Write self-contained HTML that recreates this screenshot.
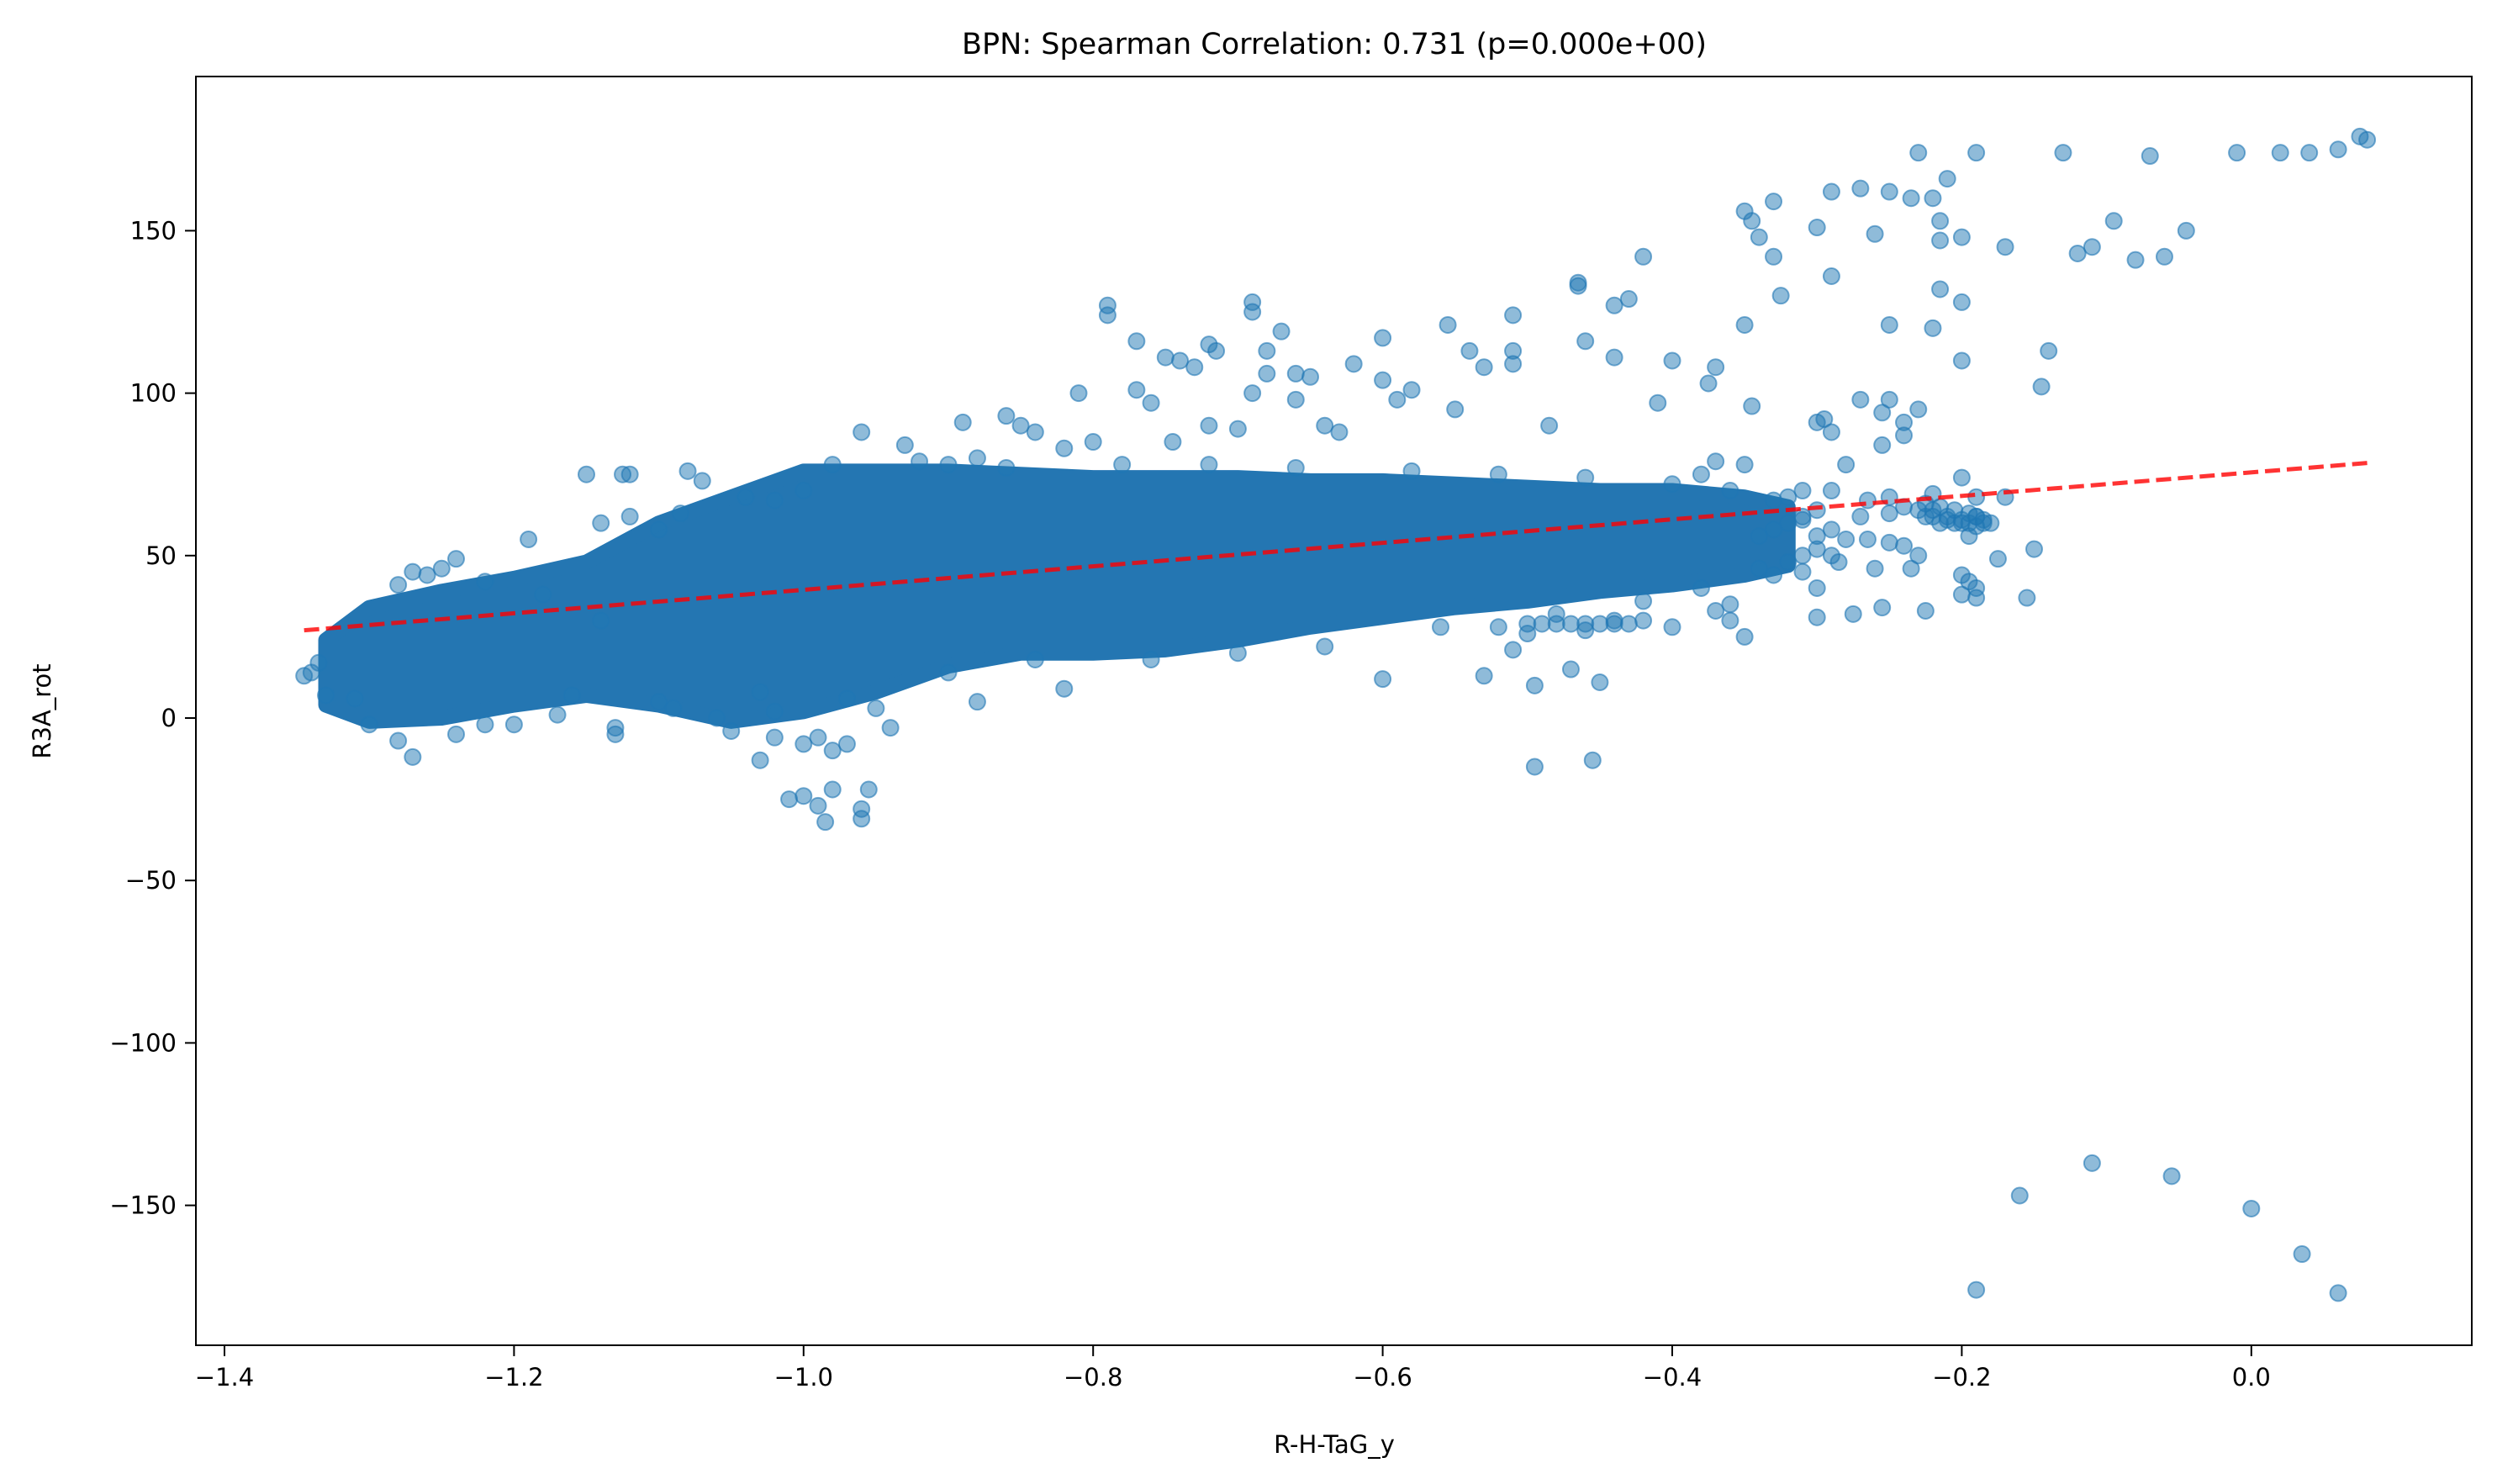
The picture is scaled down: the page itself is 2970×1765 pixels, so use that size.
<!DOCTYPE html>
<html><head><meta charset="utf-8"><style>
html,body{margin:0;padding:0;background:#fff}
svg{display:block;font-family:"DejaVu Sans","Liberation Sans",sans-serif}
</style></head><body>
<svg id="chart" width="2970" height="1765" viewBox="0 0 2970 1765">
<rect x="0" y="0" width="2970" height="1765" fill="#fff"/>
<g id="plot"></g>
<rect x="233" y="91" width="2707" height="1509" fill="none" stroke="#000" stroke-width="2"/>
<g id="axes"></g>
<text x="1587" y="64" font-size="35" text-anchor="middle">BPN: Spearman Correlation: 0.731 (p=0.000e+00)</text>
<text x="1587" y="1728" font-size="29" text-anchor="middle">R-H-TaG_y</text>
<text x="60" y="846" font-size="29" text-anchor="middle" transform="rotate(-90 60 846)">R3A_rot</text>
</svg>
<script>
const xTicks=[-1.4,-1.2,-1.0,-0.8,-0.6,-0.4,-0.2,0.0];
const xTickLabels=["\u22121.4","\u22121.2","\u22121.0","\u22120.8","\u22120.6","\u22120.4","\u22120.2","0.0"];
const yTicks=[-150,-100,-50,0,50,100,150];
const yTickLabels=["\u2212150","\u2212100","\u221250","0","50","100","150"];
const cloudX=[-1.33,-1.3,-1.25,-1.2,-1.15,-1.1,-1.05,-1.0,-0.95,-0.9,-0.85,-0.8,-0.75,-0.7,-0.65,-0.6,-0.55,-0.5,-0.45,-0.4,-0.35,-0.32];
const cloudUpper=[24,34,39,43,48,60,68,76,76,76,75,74,74,74,73,73,72,71,70,70,68,65];
const cloudLower=[4,-1,0,4,7,4,-1,2,8,16,20,20,21,24,28,31,34,36,39,41,44,47];
const pointsX=[0.075,0.08,0.06,0.04,0.02,-0.01,-0.07,-0.13,-0.19,-0.23,-0.21,-0.25,-0.27,-0.235,-0.22,-0.29,-0.33,-0.17,-0.12,-0.11,-0.095,-0.08,-0.06,-0.045,-0.2,-0.215,-0.215,-0.26,-0.3,-0.345,-0.35,-0.34,-0.33,-0.42,-0.29,-0.325,-0.43,-0.44,-0.465,-0.465,-0.2,-0.215,-0.22,-0.25,-0.35,-0.51,-0.51,-0.46,-0.555,-0.6,-0.54,-0.2,-0.14,-0.145,-0.4,-0.37,-0.375,-0.44,-0.53,-0.51,-0.58,-0.6,-0.62,-0.345,-0.41,-0.27,-0.25,-0.255,-0.24,-0.23,-0.3,-0.295,-0.29,-0.24,-0.255,-0.485,-0.55,-0.59,-0.64,-0.69,-0.69,-0.79,-0.79,-0.77,-0.72,-0.715,-0.68,-0.68,-0.66,-0.67,-0.65,-0.75,-0.73,-0.74,-0.81,-0.77,-0.76,-0.745,-0.72,-0.7,-0.66,-0.69,-0.85,-0.84,-0.89,-0.96,-0.9,-0.86,-0.93,-1.15,-1.125,-1.12,-1.08,-1.07,-0.8,-0.82,-0.88,-0.63,
-0.28,-0.2,-0.22,-0.25,-0.265,-0.17,-0.29,-0.25,-0.27,-0.31,-0.265,-0.26,-0.24,-0.25,-0.23,-0.235,-0.2,-0.195,-0.19,-0.2,-0.19,-0.15,-0.155,-0.175,-0.29,-0.285,-0.28,-0.31,-0.3,-0.275,-0.255,-0.225,-0.36,-0.37,-0.35,-0.36,-0.4,-0.42,-0.44,-0.46,-0.5,-0.52,-0.47,-0.45,-0.51,-0.53,-0.495,-0.455,-0.495,-0.6,-0.18,-0.19,-0.2,-0.21,-0.22,-0.23,-0.24,-0.19,-0.195,-0.33,-0.32,-0.31,-0.35,-0.37,-0.38,
-0.5,-0.49,-0.48,-0.47,-0.46,-0.45,-0.44,-0.43,
-1.0,-1.01,-0.99,-0.985,-0.96,-0.96,-0.955,-0.98,-1.0,-0.99,-1.02,-1.03,-0.98,-0.97,-1.05,-0.95,-0.94,-0.88,-1.13,-1.13,-1.27,-1.28,-1.24,-1.22,-1.17,-1.3,-1.31,-1.33,-1.34,-1.345,-1.335,-1.2,-1.16,-1.1,-1.09,-1.03,-0.82,
-0.19,-0.16,-0.11,-0.055,0.0,0.035,0.06,
-1.27,-1.24,-1.25,-1.28,-1.19,-1.14,-1.12,-1.1,-1.085,-1.04,-1.02,-1.0,
-0.225,-0.22,-0.215,-0.21,-0.205,-0.2,-0.195,-0.19,-0.185,-0.225,-0.215,-0.205,-0.195,-0.19,-0.185,
-0.3,-0.31,-0.32,-0.33,-0.34,-0.3,-0.31,-0.32,-0.34,-0.33,-0.3,-0.29,-0.3,
-0.98,-0.92,-0.86,-0.78,-0.72,-0.66,-0.58,-0.52,-0.46,-0.4,-0.36,
-1.06,-1.02,-0.97,-0.9,-0.84,-0.76,-0.7,-0.64,-0.56,-0.48,-0.42,-0.38,-1.22,-1.18,-1.14,-1.26];
const pointsY=[179,178,175,174,174,174,173,174,174,174,166,162,163,160,160,162,159,145,143,145,153,141,142,150,148,147,153,149,151,153,156,148,142,142,136,130,129,127,134,133,128,132,120,121,121,124,113,116,121,117,113,110,113,102,110,108,103,111,108,109,101,104,109,96,97,98,98,94,91,95,91,92,88,87,84,90,95,98,90,128,125,127,124,116,115,113,113,106,106,119,105,111,108,110,100,101,97,85,90,89,98,100,90,88,91,88,78,93,84,75,75,75,76,73,85,83,80,88,
78,74,69,68,67,68,70,63,62,61,55,46,53,54,50,46,44,42,40,38,37,52,37,49,50,48,55,45,31,32,34,33,35,33,25,30,28,30,30,27,26,28,15,11,21,13,-15,-13,10,12,60,62,60,61,62,64,65,68,56,67,68,70,78,79,75,
29,29,29,29,29,29,29,29,
-24,-25,-27,-32,-31,-28,-22,-22,-8,-6,-6,-13,-10,-8,-4,3,-3,5,-3,-5,-12,-7,-5,-2,1,-2,6,7,14,13,17,-2,7,5,3,8,9,
-176,-147,-137,-141,-151,-165,-177,
45,49,46,41,55,60,62,58,63,68,67,70,
62,64,60,62,60,61,60,62,61,66,65,64,63,59,60,
64,62,60,58,56,52,50,48,46,44,56,58,40,
78,79,77,78,78,77,76,75,74,72,70,
0,2,6,14,18,18,20,22,28,32,36,40,42,38,30,44];
const fitX=[-1.345,0.08];
const fitY=[27,78.5];

const NS="http://www.w3.org/2000/svg";
function xs(v){return 267+(v+1.4)*1722;}
function ys(v){return 854-v*3.864;}
const plot=document.getElementById('plot');
const axes=document.getElementById('axes');
function mk(tag,attrs,parent){const e=document.createElementNS(NS,tag);for(const k in attrs)e.setAttribute(k,attrs[k]);parent.appendChild(e);return e;}

let pts=[];
for(let i=0;i<cloudX.length;i++)pts.push(xs(cloudX[i])+","+ys(cloudUpper[i]));
for(let i=cloudX.length-1;i>=0;i--)pts.push(xs(cloudX[i])+","+ys(cloudLower[i]));
const cloud=mk('polygon',{points:pts.join(' '),fill:'#2476b2',stroke:'#2476b2','stroke-width':18,'stroke-linejoin':'round'},plot);



for(let i=0;i<pointsX.length;i++){
  const c=mk('circle',{cx:xs(pointsX[i]),cy:ys(pointsY[i]),r:9.5,fill:'rgba(31,119,180,0.5)',stroke:'rgba(31,119,180,0.6)','stroke-width':2},plot);
  
  
}
const fl=mk('line',{x1:xs(fitX[0]),y1:ys(fitY[0]),x2:xs(fitX[1]),y2:ys(fitY[1]),stroke:'rgba(255,0,0,0.8)','stroke-width':5,'stroke-dasharray':'18,8'},plot);



for(let i=0;i<xTicks.length;i++){
  const x=xs(xTicks[i]);
  const t=mk('line',{x1:x,y1:1600,x2:x,y2:1613,stroke:'#000','stroke-width':2},axes);
  
  
  const l=mk('text',{x:x,y:1648,'font-size':29,'text-anchor':'middle'},axes);
  l.textContent=xTickLabels[i];
  
  
}
for(let i=0;i<yTicks.length;i++){
  const y=ys(yTicks[i]);
  const t=mk('line',{x1:220,y1:y,x2:233,y2:y,stroke:'#000','stroke-width':2},axes);
  
  
  const l=mk('text',{x:210,y:y+10,'font-size':29,'text-anchor':'end'},axes);
  l.textContent=yTickLabels[i];
  
  
}
</script>
</body></html>
